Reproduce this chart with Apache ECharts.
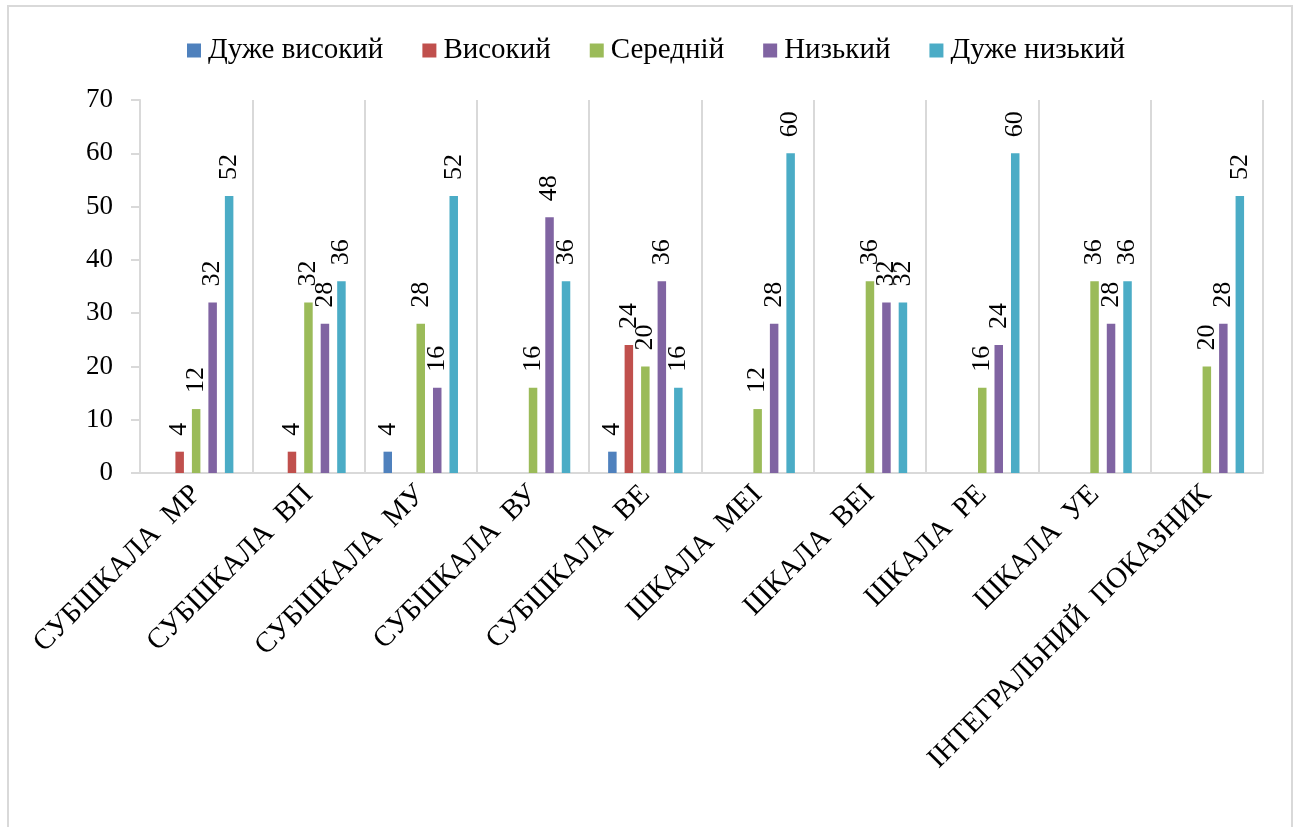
<!DOCTYPE html>
<html>
<head>
<meta charset="utf-8">
<script src="https://cdn.jsdelivr.net/npm/echarts@6/dist/echarts.min.js"></script>
<style>
  html, body { margin: 0; padding: 0; background: #ffffff; }
  #chart { width: 1298px; height: 827px; }
</style>
</head>
<body>
<div id="chart"></div>
<script>
// Scale names along the category axis
const categories = [
  'СУБШКАЛА  МР', 'СУБШКАЛА  ВП', 'СУБШКАЛА  МУ', 'СУБШКАЛА  ВУ', 'СУБШКАЛА  ВЕ',
  'ШКАЛА  МЕІ', 'ШКАЛА  ВЕІ', 'ШКАЛА  РЕ', 'ШКАЛА  УЕ', 'ІНТЕГРАЛЬНИЙ  ПОКАЗНИК'
];

// Level names (legend) and their values per scale; null = no bar
const levelNames = ['Дуже високий', 'Високий', 'Середній', 'Низький', 'Дуже низький'];
const veryHigh = [null, null, 4, null, 4, null, null, null, null, null];
const high     = [4, 4, null, null, 24, null, null, null, null, null];
const medium   = [12, 32, 28, 16, 20, 12, 36, 16, 36, 20];
const low      = [32, 28, 16, 48, 36, 28, 32, 24, 28, 28];
const veryLow  = [52, 36, 52, 36, 16, 60, 32, 60, 36, 52];

const yTicks = { min: 0, max: 70, step: 10 };

const colors = ['#4F81BD', '#C0504D', '#9BBB59', '#8064A2', '#4BACC6'];
const serif = 'Liberation Serif';

const seriesValues = [veryHigh, high, medium, low, veryLow];

const chart = echarts.init(document.getElementById('chart'), null, { renderer: 'canvas' });

chart.setOption({
  backgroundColor: '#ffffff',
  animation: false,
  color: colors,
  textStyle: { fontFamily: serif },
  graphic: [{
    type: 'rect',
    shape: { x: 8, y: 6, width: 1284, height: 840 },
    style: { fill: 'none', stroke: '#d9d9d9', lineWidth: 2 },
    silent: true
  }],
  legend: {
    top: 31,
    left: 182,
    icon: 'rect',
    itemWidth: 14,
    itemHeight: 14,
    itemGap: 39,
    textStyle: { fontFamily: serif, fontSize: 29, color: '#000000', padding: [0, 0, 0, 2] },
    data: levelNames
  },
  grid: { left: 140, right: 35, top: 100, bottom: 354, containLabel: false },
  xAxis: {
    type: 'category',
    data: categories,
    axisLine: { show: true, lineStyle: { color: '#d9d9d9', width: 2 } },
    axisTick: { show: false },
    splitLine: { show: true, interval: 0, lineStyle: { color: '#d9d9d9', width: 2 } },
    axisLabel: {
      interval: 0,
      rotate: 45,
      margin: 17,
      fontFamily: serif,
      fontSize: 29,
      color: '#000000'
    }
  },
  yAxis: {
    type: 'value',
    min: yTicks.min,
    max: yTicks.max,
    interval: yTicks.step,
    axisLine: { show: true, lineStyle: { color: '#d9d9d9', width: 2 } },
    axisTick: { show: true, length: 9, lineStyle: { color: '#d9d9d9', width: 2 } },
    splitLine: { show: false },
    axisLabel: { fontFamily: serif, fontSize: 27, color: '#000000', margin: 27 }
  },
  series: seriesValues.map((vals, i) => ({
    name: levelNames[i],
    type: 'bar',
    data: vals,
    barWidth: 8.5,
    barGap: '94%',
    itemStyle: { color: colors[i] },
    label: {
      show: true,
      position: 'top',
      rotate: 90,
      align: 'left',
      verticalAlign: 'middle',
      distance: 16,
      fontFamily: serif,
      fontSize: 26,
      color: '#000000'
    }
  }))
});
</script>
</body>
</html>
